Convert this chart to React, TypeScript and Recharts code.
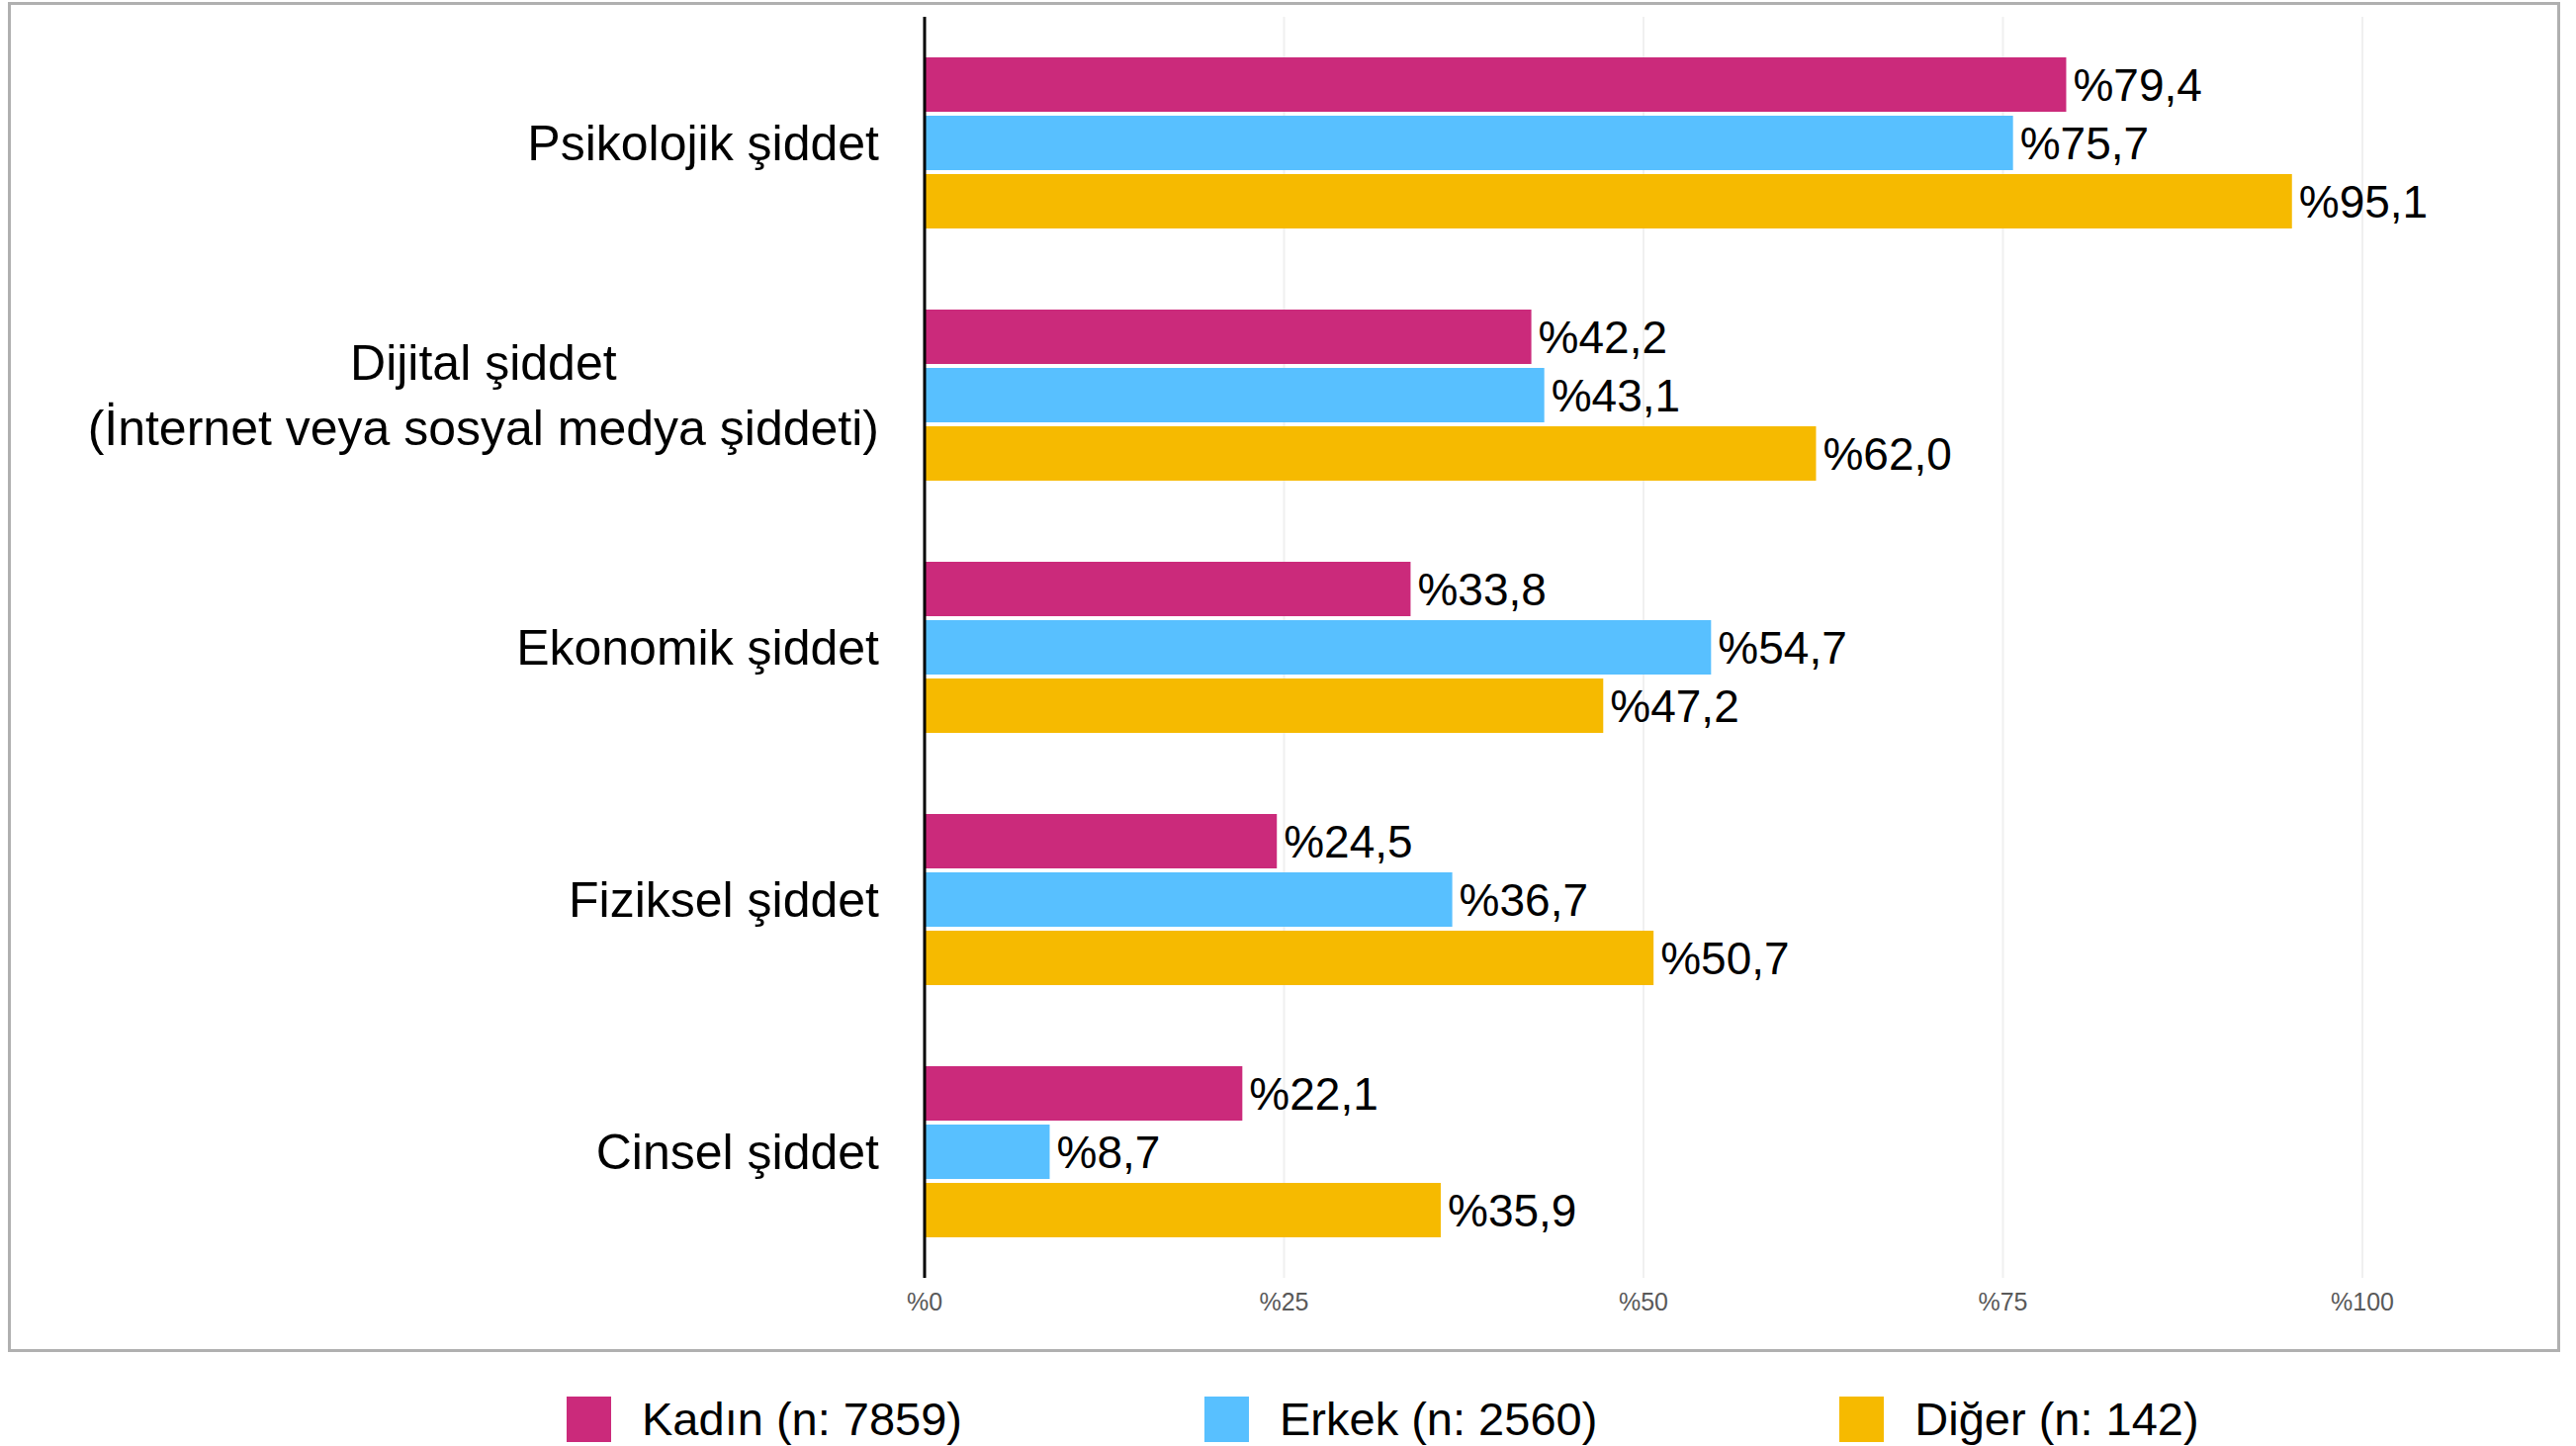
import React from "react";
import { BarChart, Bar, XAxis, YAxis, CartesianGrid, LabelList } from "recharts";

const categories = [
  "Psikolojik şiddet",
  "Dijital şiddet\n(İnternet veya sosyal medya şiddeti)",
  "Ekonomik şiddet",
  "Fiziksel şiddet",
  "Cinsel şiddet",
];
const kadin = [79.4, 42.2, 33.8, 24.5, 22.1];
const erkek = [75.7, 43.1, 54.7, 36.7, 8.7];
const diger = [95.1, 62.0, 47.2, 50.7, 35.9];
const xTicks = [0, 25, 50, 75, 100];

const seriesNames = ["Kadın (n: 7859)", "Erkek (n: 2560)", "Diğer (n: 142)"];
const seriesKeys = ["kadin", "erkek", "diger"];
const seriesColors = ["#CB2A7B", "#58C0FF", "#F6BA00"];

const FONT = '"Liberation Sans", Arial, sans-serif';

const data = categories.map((c, i) => ({
  name: c,
  kadin: kadin[i],
  erkek: erkek[i],
  diger: diger[i],
}));

const fmt = (v: any) => `%${Number(v).toFixed(1).replace(".", ",")}`;

const CategoryTick = (props: any) => {
  const { x, y, payload } = props;
  const lines = String(payload.value).split("\n");
  return (
    <foreignObject x={0} y={y - 80} width={x} height={160}>
      <div
        style={{
          width: "100%",
          height: "100%",
          display: "flex",
          justifyContent: "flex-end",
          alignItems: "center",
        }}
      >
        <div
          style={{
            textAlign: "center",
            fontFamily: FONT,
            fontSize: 50,
            lineHeight: "66px",
            color: "#000",
            whiteSpace: "nowrap",
          }}
        >
          {lines.map((l, i) => (
            <div key={i}>{l}</div>
          ))}
        </div>
      </div>
    </foreignObject>
  );
};

const App = () => {
  return (
    <div
      style={{
        position: "absolute",
        left: 0,
        top: 0,
        width: 2605,
        height: 1462,
        background: "#fff",
        overflow: "hidden",
      }}
    >
      <div
        style={{
          position: "absolute",
          left: 8,
          top: 2,
          width: 2575,
          height: 1359,
          border: "3px solid #b0b0b0",
        }}
      />
      <div style={{ position: "absolute", left: 0, top: 0 }}>
        <BarChart
          width={2605}
          height={1380}
          data={data}
          layout="vertical"
          margin={{ top: 17, right: 216, left: 0, bottom: 28 }}
          barSize={55}
          barGap={4}
        >
          <CartesianGrid horizontal={false} stroke="#f0f0f0" strokeWidth={2} />
          <XAxis
            type="number"
            domain={[0, 100]}
            ticks={xTicks}
            height={60}
            axisLine={false}
            tickLine={false}
            tickMargin={9}
            tickFormatter={(v: any) => `%${v}`}
            tick={{ fill: "#595959", fontSize: 25, fontFamily: FONT }}
          />
          <YAxis
            type="category"
            dataKey="name"
            width={935}
            axisLine={{ stroke: "#000", strokeWidth: 3 }}
            tickLine={false}
            tickSize={0}
            tickMargin={46}
            tick={<CategoryTick />}
          />
          {seriesKeys.map((k, i) => (
            <Bar
              key={k}
              dataKey={k}
              name={seriesNames[i]}
              fill={seriesColors[i]}
              isAnimationActive={false}
            >
              <LabelList
                dataKey={k}
                position="right"
                offset={7}
                formatter={fmt}
                style={{ fill: "#000", fontSize: 46, fontFamily: FONT }}
              />
            </Bar>
          ))}
        </BarChart>
      </div>
      <div
        style={{
          position: "absolute",
          left: 573,
          top: 1412,
          display: "flex",
          alignItems: "center",
          gap: 245,
        }}
      >
        {seriesNames.map((n, i) => (
          <div key={n} style={{ display: "flex", alignItems: "center" }}>
            <div
              style={{
                width: 45,
                height: 46,
                background: seriesColors[i],
                marginRight: 31,
              }}
            />
            <span
              style={{
                fontFamily: FONT,
                fontSize: 47,
                lineHeight: "46px",
                color: "#000",
                whiteSpace: "nowrap",
              }}
            >
              {n}
            </span>
          </div>
        ))}
      </div>
    </div>
  );
};

export default App;
